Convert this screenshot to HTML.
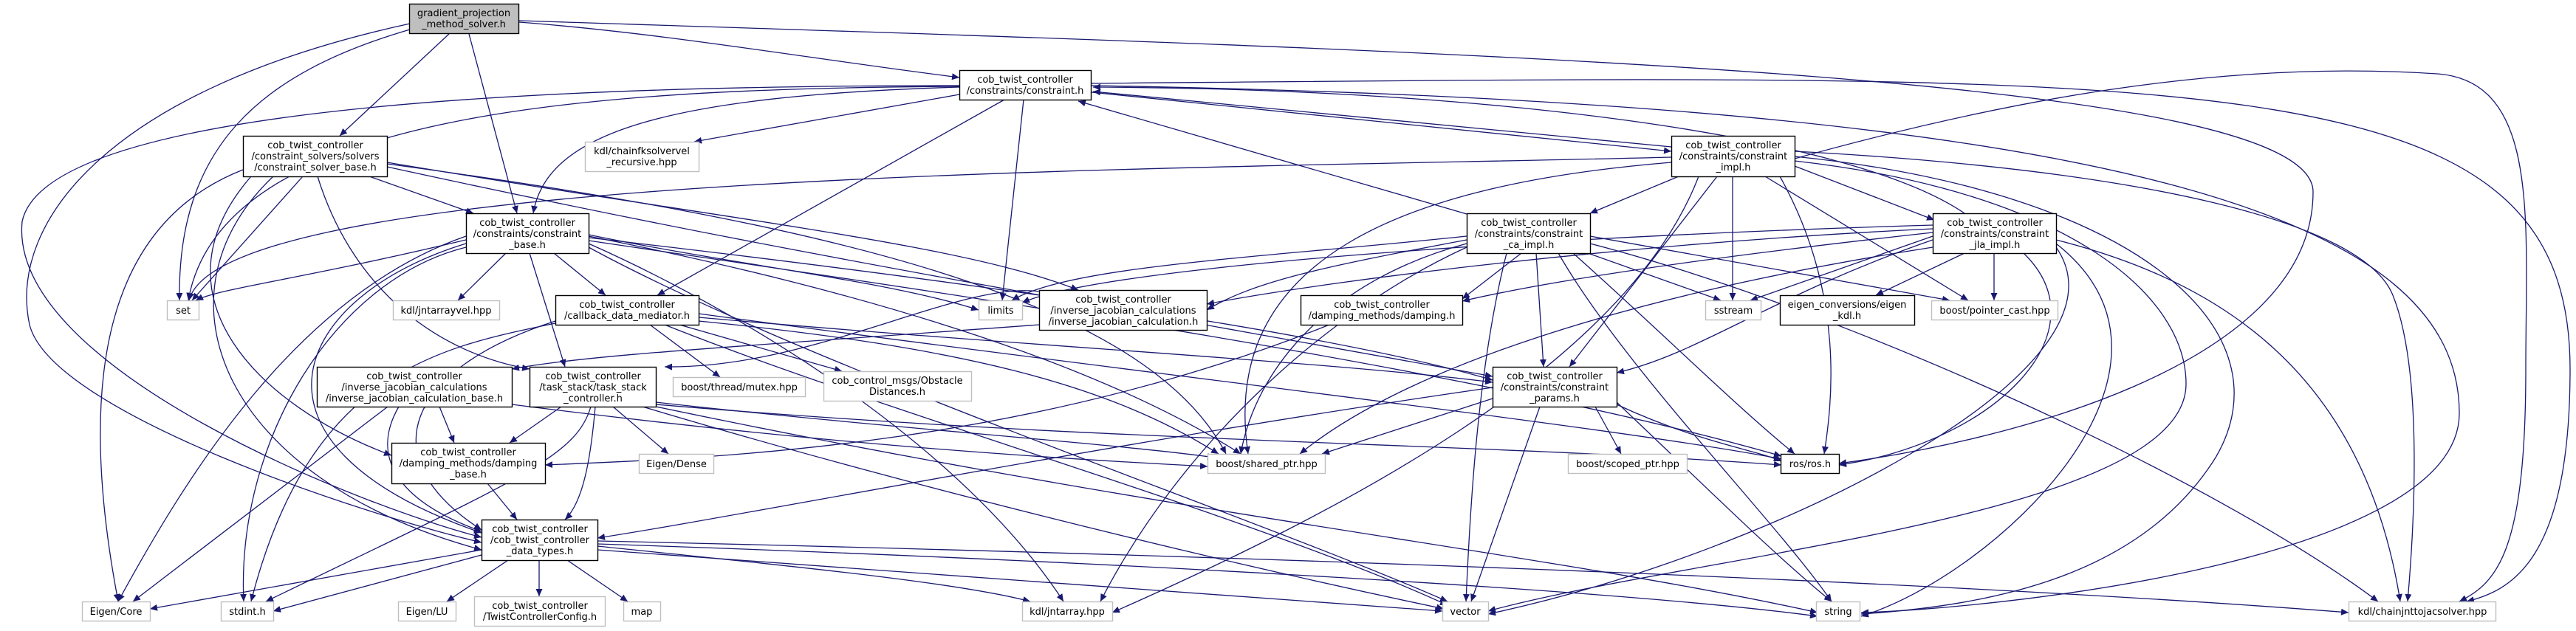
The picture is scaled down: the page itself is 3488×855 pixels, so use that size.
<!DOCTYPE html>
<html><head><meta charset="utf-8"><style>
html,body{margin:0;padding:0;background:#fff;}
svg{display:block;}
text{font-family:"DejaVu Sans","Liberation Sans",sans-serif;font-size:13px;fill:#000;text-anchor:middle;}
.e{fill:none;stroke:#191970;stroke-width:1.3;marker-end:url(#a);}
.n{fill:#fff;stroke:#000;stroke-width:1.4;}
.g{fill:#fff;stroke:#bfbfbf;stroke-width:1.4;}
</style></head><body>
<svg width="3488" height="855" viewBox="0 0 3488 855" xmlns="http://www.w3.org/2000/svg">
<defs><marker id="a" markerUnits="userSpaceOnUse" markerWidth="11" markerHeight="9" refX="10" refY="4.5" orient="auto"><path d="M0,0 L10,4.5 L0,9 z" fill="#191970"/></marker></defs>
<g>
<!-- gradient edges -->
<path class="e" d="M703,30 C900,45 1100,80 1299,105"/>
<path class="e" d="M608,46 L460,184"/>
<path class="e" d="M635,46 L700,289"/>
<path class="e" d="M555,40 C350,100 240,200 243,407"/>
<path class="e" d="M555,32 C150,120 10,300 40,440 C70,560 500,700 652,735"/>
<path class="e" d="M703,28 C2000,70 3132,100 3132,260 C3132,500 2700,600 2490,628"/>
<!-- constraint.h edges -->
<path class="e" d="M1299,117 C800,120 300,150 255,407"/>
<path class="e" d="M1299,118 C900,130 740,180 722,289"/>
<path class="e" d="M1360,135 L890,400"/>
<path class="e" d="M1386,135 L1357,407"/>
<path class="e" d="M1299,128 L940,192"/>
<path class="e" d="M1478,125 L2263,205"/>
<path class="e" d="M2263,199 L1480,124"/>
<path class="e" d="M1478,116 C2900,140 3330,300 3330,560 C3330,760 2700,825 2520,830"/>
<path class="e" d="M1478,113 C3000,100 3480,80 3480,500 C3480,760 3400,800 3340,815"/>
<path class="e" d="M1299,116 C600,116 60,160 30,300 C10,500 500,690 652,728"/>
<path class="e" d="M1986,290 L1460,137"/>
<path class="e" d="M2660,289 C2500,180 2000,120 1480,118"/>
<path class="e" d="M2430,215 C2700,140 3000,80 3300,100 C3440,110 3420,300 3420,500 C3420,750 3380,790 3330,815"/>
<!-- constraint_impl edges -->
<path class="e" d="M2430,225 L2619,298"/>
<path class="e" d="M2273,239 L2153,289"/>
<path class="e" d="M2346,239 L2346,407"/>
<path class="e" d="M2390,239 L2665,407"/>
<path class="e" d="M2325,239 L2125,497"/>
<path class="e" d="M2263,213 C1600,230 300,230 256,407"/>
<path class="e" d="M2263,220 C1900,250 1650,350 1690,615"/>
<path class="e" d="M2410,239 C2500,400 2480,550 2470,615"/>
<path class="e" d="M2430,212 C2900,260 3100,450 3000,620 C2900,780 2700,820 2520,832"/>
<path class="e" d="M2430,218 C2800,260 2960,400 2960,520 C2960,700 2300,750 2015,828"/>
<path class="e" d="M2430,205 C2900,230 3200,300 3240,400 C3280,500 3270,700 3260,815"/>
<path class="e" d="M2300,239 C2200,500 1800,700 1506,830"/>
<!-- solver base edges -->
<path class="e" d="M500,239 L641,289"/>
<path class="e" d="M410,239 L260,407"/>
<path class="e" d="M329,230 C150,300 100,500 160,815"/>
<path class="e" d="M370,239 C200,400 300,650 652,745"/>
<path class="e" d="M340,239 C200,400 350,550 530,617"/>
<path class="e" d="M430,239 C480,400 600,480 717,500"/>
<path class="e" d="M524,220 C1000,300 1300,330 1460,393"/>
<path class="e" d="M524,222 C1100,300 1550,400 1660,615"/>
<path class="e" d="M524,226 C1000,330 1300,380 2021,510"/>
<!-- constraint_base edges -->
<path class="e" d="M631,325 C400,380 300,390 265,407"/>
<path class="e" d="M685,343 L620,407"/>
<path class="e" d="M750,343 L820,400"/>
<path class="e" d="M717,343 L765,497"/>
<path class="e" d="M631,330 C400,400 300,600 652,722"/>
<path class="e" d="M631,335 C450,380 320,600 330,815"/>
<path class="e" d="M631,320 C400,400 250,650 160,815"/>
<path class="e" d="M797,318 C1000,360 1200,380 1325,420"/>
<path class="e" d="M797,320 C1200,400 1500,500 1680,615"/>
<path class="e" d="M797,322 C1300,380 1800,450 2021,515"/>
<path class="e" d="M797,330 C1000,420 1300,600 1440,815"/>
<path class="e" d="M797,335 C1100,500 1700,700 1960,815"/>
<path class="e" d="M797,326 C1300,400 2000,500 2412,618"/>
<!-- callback edges -->
<path class="e" d="M752,438 C600,470 420,500 340,815"/>
<path class="e" d="M752,435 C550,500 500,620 652,718"/>
<path class="e" d="M880,440 L975,511"/>
<path class="e" d="M920,440 L1140,503"/>
<path class="e" d="M946,430 C1400,470 1800,490 2021,518"/>
<path class="e" d="M946,425 C1500,500 2200,580 2412,622"/>
<path class="e" d="M946,435 C1300,470 1500,520 1650,615"/>
<path class="e" d="M900,440 C1200,560 1700,700 1960,820"/>
<!-- IJC / IJCB -->
<path class="e" d="M1407,440 C1000,470 800,480 693,500"/>
<path class="e" d="M1407,395 C1300,380 1100,500 900,497"/>
<path class="e" d="M595,551 L615,600"/>
<path class="e" d="M540,551 C500,620 540,680 652,720"/>
<path class="e" d="M525,551 L180,815"/>
<path class="e" d="M693,548 C1100,600 1400,620 1635,632"/>
<!-- task stack -->
<path class="e" d="M760,551 L690,600"/>
<path class="e" d="M806,551 C800,620 790,680 765,704"/>
<path class="e" d="M800,551 C780,620 700,650 360,815"/>
<path class="e" d="M830,551 L905,615"/>
<path class="e" d="M888,551 C1600,700 2100,750 2461,830"/>
<path class="e" d="M870,551 C1200,650 1600,750 1955,825"/>
<path class="e" d="M888,548 C1500,600 2000,600 2412,630"/>
<path class="e" d="M888,545 C1200,580 1500,600 1645,620"/>
<!-- damping -->
<path class="e" d="M660,655 L700,704"/>
<path class="e" d="M1800,440 C1400,600 1000,620 738,630"/>
<!-- data types -->
<path class="e" d="M652,745 L203,825"/>
<path class="e" d="M652,752 L370,828"/>
<path class="e" d="M688,759 L605,815"/>
<path class="e" d="M730,759 L730,808"/>
<path class="e" d="M768,759 L850,815"/>
<path class="e" d="M809,740 C1100,770 1300,790 1395,815"/>
<path class="e" d="M809,745 L1953,828"/>
<path class="e" d="M809,737 C1500,760 2200,800 2461,835"/>
<path class="e" d="M809,733 C2000,760 2800,800 3180,830"/>
<!-- params -->
<path class="e" d="M2021,525 C1500,600 1000,700 809,729"/>
<path class="e" d="M2021,540 L1790,615"/>
<path class="e" d="M2160,551 L2195,615"/>
<path class="e" d="M2085,551 L1992,815"/>
<path class="e" d="M2189,545 C2300,650 2400,750 2480,815"/>
<path class="e" d="M2189,548 C2300,600 2380,610 2412,625"/>
<!-- ca impl -->
<path class="e" d="M2080,343 L2090,497"/>
<path class="e" d="M1986,320 C1700,350 1450,360 1370,407"/>
<path class="e" d="M1986,325 C1800,360 1700,380 1634,420"/>
<path class="e" d="M2060,343 L1980,405"/>
<path class="e" d="M2150,343 L2330,407"/>
<path class="e" d="M1986,330 C1800,380 1700,500 1680,615"/>
<path class="e" d="M1986,335 C1800,420 1600,600 1490,815"/>
<path class="e" d="M2040,343 C2000,500 1990,700 1985,815"/>
<path class="e" d="M2110,343 C2200,500 2400,700 2480,815"/>
<path class="e" d="M2130,343 C2250,450 2350,550 2430,615"/>
<path class="e" d="M2153,330 C2500,420 3000,650 3220,815"/>
<path class="e" d="M2153,320 L2640,407"/>
<!-- jla -->
<path class="e" d="M2617,320 L2370,407"/>
<path class="e" d="M2660,343 L2540,400"/>
<path class="e" d="M2700,343 L2700,407"/>
<path class="e" d="M2617,305 C2100,320 1500,360 1384,410"/>
<path class="e" d="M2617,310 C2200,330 1800,380 1634,412"/>
<path class="e" d="M2617,315 C2300,350 2100,380 1980,408"/>
<path class="e" d="M2617,325 C2400,400 2300,480 2189,505"/>
<path class="e" d="M2740,343 C2850,450 2700,600 2490,630"/>
<path class="e" d="M2784,330 C3000,500 2700,780 2520,835"/>
<path class="e" d="M2784,325 C3000,380 3200,500 3250,815"/>
<path class="e" d="M2617,335 C2200,400 1900,500 1760,615"/>
<path class="e" d="M2784,335 C2900,500 2400,750 2015,832"/>
</g>
<!-- nodes -->
<rect x="554.5" y="5.5" width="148" height="40" fill="#bfbfbf" stroke="#000" stroke-width="1.4"/>
<text x="628" y="22">gradient_projection</text><text x="628" y="37">_method_solver.h</text>

<rect class="n" x="1299.5" y="95.5" width="178" height="40"/>
<text x="1388" y="112">cob_twist_controller</text><text x="1388" y="127">/constraints/constraint.h</text>

<rect class="n" x="329.5" y="184.5" width="195" height="55"/>
<text x="427" y="201">cob_twist_controller</text><text x="427" y="216">/constraint_solvers/solvers</text><text x="427" y="231">/constraint_solver_base.h</text>

<rect class="g" x="792.5" y="192.5" width="154" height="40"/>
<text x="869" y="209">kdl/chainfksolvervel</text><text x="869" y="224">_recursive.hpp</text>

<rect class="n" x="2263.5" y="184.5" width="167" height="55"/>
<text x="2347" y="201">cob_twist_controller</text><text x="2347" y="216">/constraints/constraint</text><text x="2347" y="231">_impl.h</text>

<rect class="n" x="631.5" y="289.5" width="166" height="54"/>
<text x="714" y="306">cob_twist_controller</text><text x="714" y="321">/constraints/constraint</text><text x="714" y="336">_base.h</text>

<rect class="n" x="1986.5" y="289.5" width="167" height="54"/>
<text x="2070" y="306">cob_twist_controller</text><text x="2070" y="321">/constraints/constraint</text><text x="2070" y="336">_ca_impl.h</text>

<rect class="n" x="2617.5" y="289.5" width="167" height="54"/>
<text x="2701" y="306">cob_twist_controller</text><text x="2701" y="321">/constraints/constraint</text><text x="2701" y="336">_jla_impl.h</text>

<rect class="g" x="226.5" y="407.5" width="43" height="26"/><text x="248" y="425">set</text>
<rect class="g" x="532.5" y="407.5" width="144" height="26"/><text x="604" y="425">kdl/jntarrayvel.hpp</text>

<rect class="n" x="752.5" y="400.5" width="194" height="40"/>
<text x="849" y="417">cob_twist_controller</text><text x="849" y="432">/callback_data_mediator.h</text>

<rect class="g" x="1325.5" y="407.5" width="59" height="26"/><text x="1355" y="425">limits</text>

<rect class="n" x="1407.5" y="393.5" width="227" height="54"/>
<text x="1521" y="410">cob_twist_controller</text><text x="1521" y="425">/inverse_jacobian_calculations</text><text x="1521" y="440">/inverse_jacobian_calculation.h</text>

<rect class="n" x="1761.5" y="400.5" width="219" height="40"/>
<text x="1871" y="417">cob_twist_controller</text><text x="1871" y="432">/damping_methods/damping.h</text>

<rect class="g" x="2309.5" y="407.5" width="75" height="26"/><text x="2347" y="425">sstream</text>

<rect class="n" x="2410.5" y="400.5" width="182" height="40"/>
<text x="2501" y="417">eigen_conversions/eigen</text><text x="2501" y="432">_kdl.h</text>

<rect class="g" x="2615.5" y="407.5" width="171" height="26"/><text x="2701" y="425">boost/pointer_cast.hpp</text>

<rect class="n" x="429.5" y="497.5" width="264" height="54"/>
<text x="561" y="514">cob_twist_controller</text><text x="561" y="529">/inverse_jacobian_calculations</text><text x="561" y="544">/inverse_jacobian_calculation_base.h</text>

<rect class="n" x="717.5" y="497.5" width="171" height="54"/>
<text x="803" y="514">cob_twist_controller</text><text x="803" y="529">/task_stack/task_stack</text><text x="803" y="544">_controller.h</text>

<rect class="g" x="911.5" y="511.5" width="179" height="26"/><text x="1001" y="529">boost/thread/mutex.hpp</text>

<rect class="g" x="1115.5" y="503.5" width="200" height="40"/>
<text x="1215" y="520">cob_control_msgs/Obstacle</text><text x="1215" y="535">Distances.h</text>

<rect class="n" x="2021.5" y="497.5" width="168" height="54"/>
<text x="2105" y="514">cob_twist_controller</text><text x="2105" y="529">/constraints/constraint</text><text x="2105" y="544">_params.h</text>

<rect class="n" x="2411.5" y="615.5" width="79" height="26"/><text x="2451" y="633">ros/ros.h</text>

<rect class="n" x="530.5" y="600.5" width="208" height="55"/>
<text x="634" y="617">cob_twist_controller</text><text x="634" y="632">/damping_methods/damping</text><text x="634" y="647">_base.h</text>

<rect class="g" x="865.5" y="615.5" width="101" height="26"/><text x="916" y="633">Eigen/Dense</text>
<rect class="g" x="1635.5" y="615.5" width="159" height="26"/><text x="1715" y="633">boost/shared_ptr.hpp</text>
<rect class="g" x="2123.5" y="615.5" width="161" height="26"/><text x="2204" y="633">boost/scoped_ptr.hpp</text>

<rect class="n" x="652.5" y="704.5" width="157" height="55"/>
<text x="731" y="721">cob_twist_controller</text><text x="731" y="736">/cob_twist_controller</text><text x="731" y="751">_data_types.h</text>

<rect class="g" x="111.5" y="815.5" width="92" height="26"/><text x="157" y="833">Eigen/Core</text>
<rect class="g" x="299.5" y="815.5" width="71" height="26"/><text x="335" y="833">stdint.h</text>
<rect class="g" x="539.5" y="815.5" width="78" height="26"/><text x="578" y="833">Eigen/LU</text>
<rect class="g" x="642.5" y="808.5" width="177" height="40"/>
<text x="731" y="825">cob_twist_controller</text><text x="731" y="840">/TwistControllerConfig.h</text>
<rect class="g" x="844.5" y="815.5" width="50" height="26"/><text x="869" y="833">map</text>
<rect class="g" x="1384.5" y="815.5" width="122" height="26"/><text x="1445" y="833">kdl/jntarray.hpp</text>
<rect class="g" x="1953.5" y="815.5" width="62" height="26"/><text x="1984" y="833">vector</text>
<rect class="g" x="2459.5" y="815.5" width="59" height="26"/><text x="2489" y="833">string</text>
<rect class="g" x="3180.5" y="815.5" width="199" height="26"/><text x="3280" y="833">kdl/chainjnttojacsolver.hpp</text>
</svg>
</body></html>
